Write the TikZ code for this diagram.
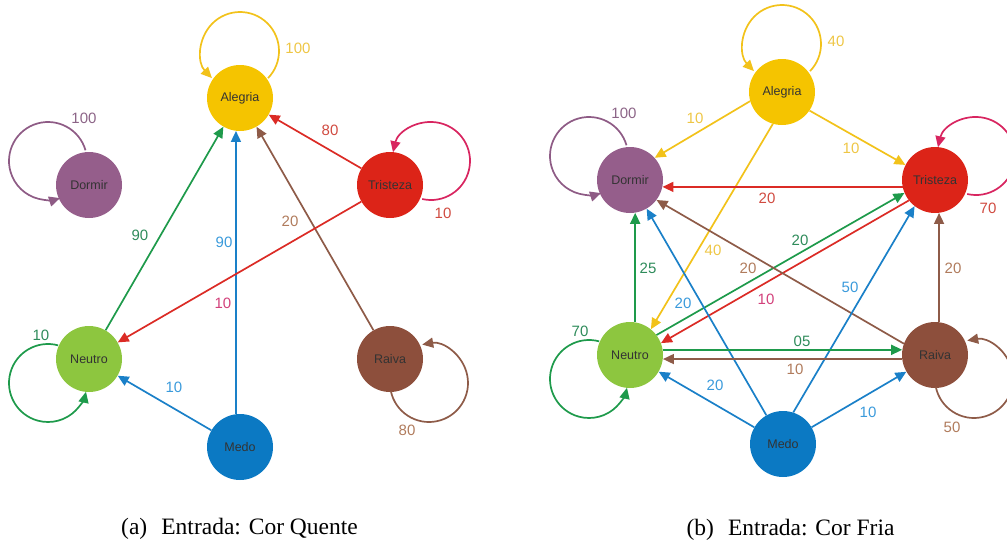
\documentclass[tikz,border=0pt]{standalone}
\usepackage{fontspec}
\setmainfont{Liberation Serif}
\newfontfamily\labfont{Liberation Sans}
\usetikzlibrary{arrows.meta}

% node fills
\definecolor{fA}{HTML}{F5C400}
\definecolor{fD}{HTML}{955E8B}
\definecolor{fT}{HTML}{DC2418}
\definecolor{fN}{HTML}{8DC63F}
\definecolor{fR}{HTML}{8D4F3C}
\definecolor{fM}{HTML}{0B79C3}
% edge colours
\definecolor{eY}{HTML}{F2C21A}
\definecolor{eP}{HTML}{8E5B85}
\definecolor{eR}{HTML}{DB2B25}
\definecolor{eC}{HTML}{D82560}
\definecolor{eG}{HTML}{1E9A4B}
\definecolor{eB}{HTML}{8E5B48}
\definecolor{eM}{HTML}{1A80C8}
% label colours
\definecolor{lY}{HTML}{EEC645}
\definecolor{lP}{HTML}{8C6487}
\definecolor{lR}{HTML}{D04A40}
\definecolor{lK}{HTML}{D2407A}
\definecolor{lG}{HTML}{2E8B5A}
\definecolor{lB}{HTML}{B07B5C}
\definecolor{lM}{HTML}{3A9ADB}

\tikzset{
  state/.style={circle, minimum size=66pt, inner sep=0pt,
    font=\labfont\fontsize{12.5}{14}\selectfont, text=black!80},
  ed/.style={line width=1.7pt, -{Triangle[length=11pt,width=10pt]}},
  lb/.style={font=\labfont\fontsize{15}{17}\selectfont, inner sep=0pt},
  captext/.style={anchor=base, inner sep=0pt, font=\fontsize{23.5}{27}\selectfont},
}

\begin{document}
\begin{tikzpicture}[x=1pt,y=1pt]
\useasboundingbox (0,0) rectangle (1007,-539);

% ---------- (a) Cor Quente ----------
\node[state, fill=fA] (A1) at (240,-98)  {Alegria};
\node[state, fill=fD] (D1) at (89,-185)  {Dormir};
\node[state, fill=fT] (T1) at (390,-185) {Tristeza};
\node[state, fill=fN] (N1) at (89,-359)  {Neutro};
\node[state, fill=fR] (R1) at (390,-359) {Raiva};
\node[state, fill=fM] (M1) at (240,-447) {Medo};

\draw[ed, eG] (N1) -- (A1);
\draw[ed, eM] (M1.97) -- (A1.263);
\draw[ed, eB] (R1) -- (A1);
\draw[ed, eR] (T1) -- (A1);
\draw[ed, eR] (T1) -- (N1);
\draw[ed, eM] (M1) -- (N1);

% self loops
\draw[ed, eY] (A1.center) ++(0,47) ++(-44:39pt) arc[start angle=-44, end angle=224, radius=39pt];
\draw[ed, eP] (D1.center) ++(-41,24) ++(16:39pt) arc[start angle=16, end angle=288, radius=39pt];
\draw[ed, eC] (T1.center) ++(41,24) ++(-103:39pt) arc[start angle=-103, end angle=167, radius=39pt];
\draw[ed, eG] (N1.center) ++(-41,-24) ++(75:39pt) arc[start angle=75, end angle=347, radius=39pt];
\draw[ed, eB] (R1.center) ++(39,-24) ++(192:39pt) arc[start angle=192, end angle=460, radius=39pt];

\node[lb, text=lY] at (298,-48)  {100};
\node[lb, text=lP] at (84,-118)  {100};
\node[lb, text=lR] at (330,-130) {80};
\node[lb, text=lR] at (443,-213) {10};
\node[lb, text=lG] at (140,-235) {90};
\node[lb, text=lM] at (224,-242) {90};
\node[lb, text=lB] at (290,-221) {20};
\node[lb, text=lK] at (223,-303) {10};
\node[lb, text=lG] at (41,-335)  {10};
\node[lb, text=lM] at (174,-387) {10};
\node[lb, text=lB] at (407,-430) {80};

\node[captext] (capA) at (239.5,-534) {(a)\hspace{0.6em}Entrada: Cor Quente};

% ---------- (b) Cor Fria ----------
\node[state, fill=fA] (A2) at (782,-92)  {Alegria};
\node[state, fill=fD] (D2) at (630,-180) {Dormir};
\node[state, fill=fT] (T2) at (935,-180) {Tristeza};
\node[state, fill=fN] (N2) at (630,-355) {Neutro};
\node[state, fill=fR] (R2) at (935,-355) {Raiva};
\node[state, fill=fM] (M2) at (783,-444) {Medo};

\draw[ed, eY] (A2.196) -- (D2.42);
\draw[ed, eY] (A2.-34) -- (T2.153);
\draw[ed, eY] (A2.254) -- (N2.51);
\draw[ed, eR] (T2.192) -- (D2.348);
\draw[ed, eG] (N2.37) -- (T2.203);
\draw[ed, eR] (T2.218) -- (N2.21);
\draw[ed, eB] (R2.160) -- (D2.323);
\draw[ed, eB] (R2.83) -- (T2.277);
\draw[ed, eG] (N2.81) -- (D2.279);
\draw[ed, eM] (M2) -- (D2);
\draw[ed, eM] (M2.72) -- (T2.232);
\draw[ed, eM] (M2) -- (N2);
\draw[ed, eM] (M2) -- (R2);
\draw[ed, eG] (N2.9) -- (R2.171);
\draw[ed, eB] (R2.187) -- (N2.353);

% self loops
\draw[ed, eY] (A2.center) ++(0,48) ++(-44:39pt) arc[start angle=-44, end angle=224, radius=39pt];
\draw[ed, eP] (D2.center) ++(-41,24) ++(16:39pt) arc[start angle=16, end angle=288, radius=39pt];
\draw[ed, eC] (T2.center) ++(41,24) ++(-103:39pt) arc[start angle=-103, end angle=167, radius=39pt];
\draw[ed, eG] (N2.center) ++(-41,-24) ++(75:39pt) arc[start angle=75, end angle=347, radius=39pt];
\draw[ed, eB] (R2.center) ++(39,-24) ++(192:39pt) arc[start angle=192, end angle=460, radius=39pt];

\node[lb, text=lY] at (836,-41)  {40};
\node[lb, text=lP] at (624,-113) {100};
\node[lb, text=lY] at (695,-118) {10};
\node[lb, text=lY] at (851,-148) {10};
\node[lb, text=lR] at (767,-198) {20};
\node[lb, text=lR] at (988,-208) {70};
\node[lb, text=lG] at (800,-240) {20};
\node[lb, text=lY] at (713,-250) {40};
\node[lb, text=lG] at (648,-268) {25};
\node[lb, text=lB] at (748,-268) {20};
\node[lb, text=lB] at (953,-268) {20};
\node[lb, text=lM] at (850,-287) {50};
\node[lb, text=lM] at (683,-303) {20};
\node[lb, text=lK] at (766,-299) {10};
\node[lb, text=lG] at (580,-331) {70};
\node[lb, text=lG] at (802,-341) {05};
\node[lb, text=lB] at (795,-369) {10};
\node[lb, text=lM] at (715,-385) {20};
\node[lb, text=lM] at (868,-412) {10};
\node[lb, text=lB] at (952,-427) {50};

\node[captext] (capB) at (790.5,-535) {(b)\hspace{0.6em}Entrada: Cor Fria};
\end{tikzpicture}
\end{document}
